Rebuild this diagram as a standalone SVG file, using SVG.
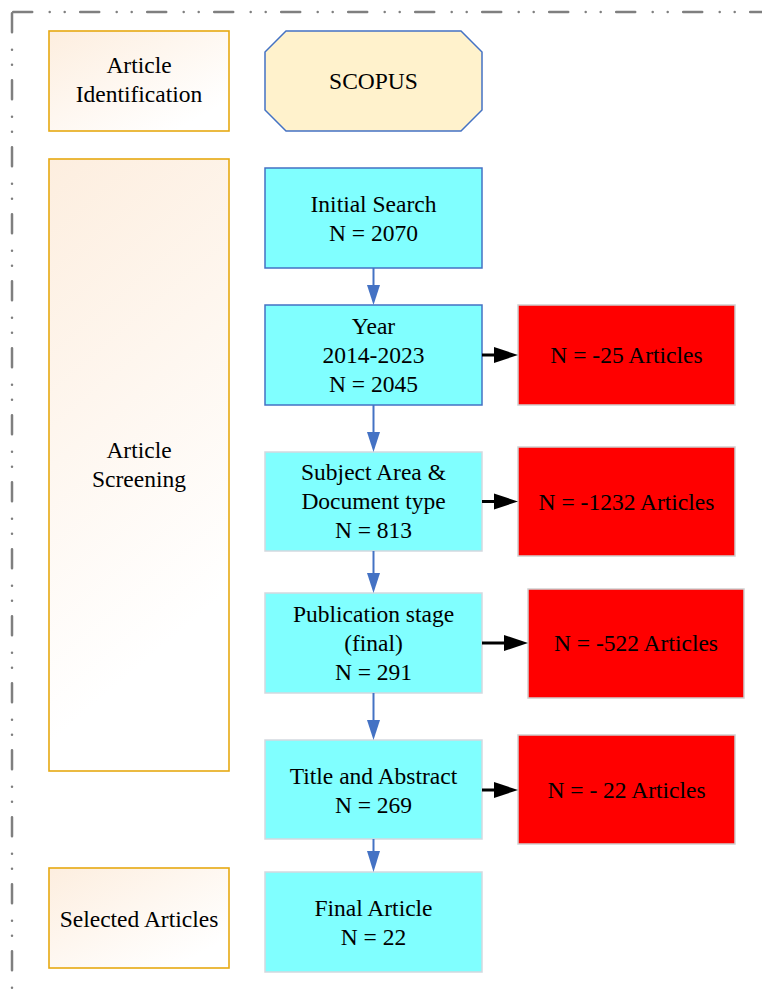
<svg xmlns="http://www.w3.org/2000/svg" width="762" height="998" viewBox="0 0 762 998">
<defs>
<linearGradient id="peach" x1="0" y1="0" x2="1" y2="1">
<stop offset="0" stop-color="#FDEEDF"/>
<stop offset="0.85" stop-color="#FFFFFF"/>
</linearGradient>
<linearGradient id="peachTall" x1="0" y1="0" x2="0.25" y2="1">
<stop offset="0" stop-color="#FDEEDF"/>
<stop offset="0.9" stop-color="#FFFFFF"/>
</linearGradient>
</defs>
<style>
text{font-family:"Liberation Serif","Times New Roman",serif;font-size:23.5px;fill:#000;text-anchor:middle}
.stage{fill:url(#peach);stroke:#E6A912;stroke-width:1.6}
.cyanB{fill:#80FFFF;stroke:#4472C4;stroke-width:1.5}
.cyanL{fill:#80FFFF;stroke:#D3D9DF;stroke-width:1.5}
.red{fill:#FF0000;stroke:#CFCFCF;stroke-width:1.5}
.frame{fill:none;stroke:#7F7F7F;stroke-width:2.5;stroke-linecap:round;stroke-dasharray:19 17.5 0 15 0 15.5}
.bl{stroke:#4472C4;stroke-width:2}
.bh{fill:#4472C4}
.kl{stroke:#000;stroke-width:3}
.kh{fill:#000}
</style>
<rect width="762" height="998" fill="#fff"/>
<g id="frame">
<line class="frame" x1="13.2" y1="12" x2="762" y2="12"/>
<line class="frame" x1="12" y1="13.2" x2="12" y2="998"/>
</g>
<g id="stage-identification"><rect class="stage" x="49" y="31" width="180" height="100"/><text x="139" y="73">Article</text><text x="139" y="101.5">Identification</text></g>
<g id="stage-screening"><rect class="stage" x="49" y="159" width="180" height="612" fill="url(#peachTall)" style="fill:url(#peachTall)"/><text x="139" y="458">Article</text><text x="139" y="487">Screening</text></g>
<g id="stage-selected"><rect class="stage" x="49" y="868" width="180" height="100"/><text x="139" y="927">Selected Articles</text></g>
<g id="scopus"><polygon points="286,31 461,31 482,52 482,110 461,131 286,131 265,110 265,52" fill="#FFF2CC" stroke="#4472C4" stroke-width="1.5"/><text x="373.5" y="89">SCOPUS</text></g>
<g id="initial"><rect class="cyanB" x="265" y="168" width="217" height="100"/><text x="373.5" y="211.5">Initial Search</text><text x="373.5" y="240.5">N = 2070</text></g>
<g id="year"><rect class="cyanB" x="265" y="305" width="217" height="100"/><text x="373.5" y="333.5">Year</text><text x="373.5" y="362.5">2014-2023</text><text x="373.5" y="391.5">N = 2045</text></g>
<g id="subject"><rect class="cyanL" x="265" y="452" width="217" height="99"/><text x="373.5" y="480">Subject Area &amp;</text><text x="373.5" y="509">Document type</text><text x="373.5" y="538">N = 813</text></g>
<g id="publication"><rect class="cyanL" x="265" y="593" width="217" height="100"/><text x="373.5" y="621.5">Publication stage</text><text x="373.5" y="650.5">(final)</text><text x="373.5" y="679.5">N = 291</text></g>
<g id="title"><rect class="cyanL" x="265" y="740" width="217" height="99"/><text x="373.5" y="783.5">Title and Abstract</text><text x="373.5" y="812.5">N = 269</text></g>
<g id="final"><rect class="cyanL" x="265" y="872" width="217" height="100"/><text x="373.5" y="916">Final Article</text><text x="373.5" y="945">N = 22</text></g>
<g id="ex1"><rect class="red" x="518" y="305" width="217" height="100"/><text x="626.5" y="363">N = -25 Articles</text></g>
<g id="ex2"><rect class="red" x="518" y="447" width="217" height="109"/><text x="626.5" y="509.5">N = -1232 Articles</text></g>
<g id="ex3"><rect class="red" x="528" y="589" width="216" height="109"/><text x="636" y="651">N = -522 Articles</text></g>
<g id="ex4"><rect class="red" x="518" y="735" width="217" height="109"/><text x="626.5" y="798">N = - 22 Articles</text></g>
<g id="connectors">
<line class="bl" x1="373.5" y1="268" x2="373.5" y2="290"/><polygon class="bh" points="367,285 380,285 373.5,305"/>
<line class="bl" x1="373.5" y1="405" x2="373.5" y2="437"/><polygon class="bh" points="367,432 380,432 373.5,452"/>
<line class="bl" x1="373.5" y1="551" x2="373.5" y2="578"/><polygon class="bh" points="367,573 380,573 373.5,593"/>
<line class="bl" x1="373.5" y1="693" x2="373.5" y2="725"/><polygon class="bh" points="367,720 380,720 373.5,740"/>
<line class="bl" x1="373.5" y1="839" x2="373.5" y2="857"/><polygon class="bh" points="367,851 380,851 373.5,872"/>
<line class="kl" x1="482" y1="355" x2="497" y2="355"/><polygon class="kh" points="494,347 518,355 494,363"/>
<line class="kl" x1="482" y1="501.5" x2="497" y2="501.5"/><polygon class="kh" points="494,493.5 518,501.5 494,509.5"/>
<line class="kl" x1="482" y1="643" x2="507" y2="643"/><polygon class="kh" points="504,635 528,643 504,651"/>
<line class="kl" x1="482" y1="790" x2="497" y2="790"/><polygon class="kh" points="494,782 518,790 494,798"/>
</g>
</svg>
